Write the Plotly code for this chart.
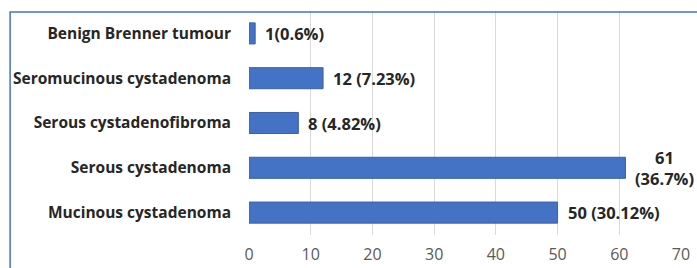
import plotly.graph_objects as go

categories = ["Mucinous cystadenoma", "Serous cystadenoma", "Serous cystadenofibroma",
              "Seromucinous cystadenoma", "Benign Brenner tumour"]
counts = [50, 61, 8, 12, 1]
labels = ["50 (30.12%)", "61<br>(36.7%)", "8 (4.82%)", "12 (7.23%)", "1(0.6%)"]
tick_vals = [0, 10, 20, 30, 40, 50, 60, 70]

FONT = "Open Sans"

fig = go.Figure(go.Bar(
    x=counts, y=categories, orientation="h",
    width=0.47,
    marker=dict(color="#4472C4", line=dict(color="#3A62A8", width=1)),
    hoverinfo="x+y",
))

for c, v, t in zip(categories, counts, labels):
    fig.add_annotation(x=v, y=c, text=t, showarrow=False, xanchor="left",
                       xshift=8, align="center",
                       font=dict(family=FONT, size=16.5, color="#262626", weight="bold"))

fig.update_layout(
    width=697, height=268,
    margin=dict(l=249, r=16, t=11, b=33),
    paper_bgcolor="white", plot_bgcolor="white",
    showlegend=False,
    xaxis=dict(range=[0, 70], tickvals=tick_vals, showgrid=True, gridcolor="#D9D9D9",
               gridwidth=1, zeroline=False, showline=False, automargin=False,
               tickfont=dict(family=FONT, size=16, color="#595959"),
               ticks="outside", ticklen=5, tickcolor="white"),
    yaxis=dict(showgrid=False, zeroline=False, showline=False, automargin=False,
               tickfont=dict(family=FONT, size=15.5, color="#262626", weight="bold"),
               ticklabelstandoff=17),
)

fig.add_shape(type="rect", xref="paper", yref="paper",
              x0=-0.553, x1=1.2, y0=-0.3, y1=0.9955,
              line=dict(color="#4472C4", width=1.5), layer="above")

fig.write_html("out.html", config={"displayModeBar": False},
               post_script="document.body.style.margin='0';")
